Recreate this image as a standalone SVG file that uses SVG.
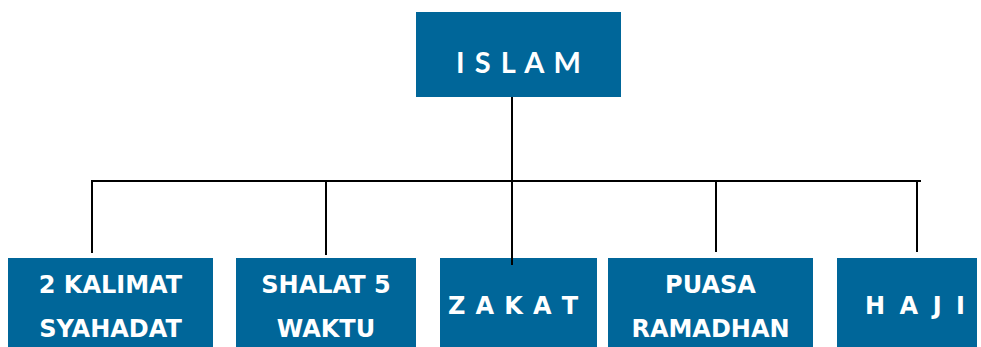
<svg xmlns="http://www.w3.org/2000/svg" width="981" height="347" viewBox="0 0 981 347">
<style>
.box{fill:#006699;}
.t{fill:#ffffff;font-family:"DejaVu Sans",sans-serif;font-weight:bold;font-size:24px;text-anchor:middle;}
.top{fill:#ffffff;font-family:Lato,"Open Sans",sans-serif;font-weight:bold;font-size:29px;}
.c{stroke:#000000;stroke-width:2;fill:none;}
</style>
<rect width="981" height="347" fill="#ffffff"/>
<g id="islam">
<rect class="box" x="416" y="12" width="205" height="85"/>
<text class="top" x="456" y="73" textLength="125" lengthAdjust="spacing">I S L A M</text>
</g>
<g id="syahadat">
<rect class="box" x="8" y="258" width="205" height="89"/>
<text class="t" x="110.5" y="293">2 KALIMAT</text>
<text class="t" x="110.5" y="337">SYAHADAT</text>
</g>
<g id="shalat">
<rect class="box" x="236" y="258" width="180" height="89"/>
<text class="t" x="326" y="293">SHALAT 5</text>
<text class="t" x="326" y="337">WAKTU</text>
</g>
<g id="zakat">
<rect class="box" x="440" y="258" width="157" height="89"/>
<text class="t" x="448" y="314" style="text-anchor:start" textLength="130" lengthAdjust="spacing">Z A K A T</text>
</g>
<g id="puasa">
<rect class="box" x="608" y="258" width="205" height="89"/>
<text class="t" x="710.5" y="293">PUASA</text>
<text class="t" x="710.5" y="337">RAMADHAN</text>
</g>
<g id="haji">
<rect class="box" x="837" y="258" width="140" height="89"/>
<text class="t" x="865" y="314" style="text-anchor:start" textLength="100" lengthAdjust="spacing">H A J I</text>
</g>
<g id="connectors">
<line class="c" x1="91" y1="181" x2="921" y2="181"/>
<line class="c" x1="512" y1="97" x2="512" y2="265"/>
<line class="c" x1="92" y1="180" x2="92" y2="253"/>
<line class="c" x1="326" y1="180" x2="326" y2="255"/>
<line class="c" x1="716" y1="180" x2="716" y2="252"/>
<line class="c" x1="917" y1="180" x2="917" y2="252"/>
</g>
</svg>
